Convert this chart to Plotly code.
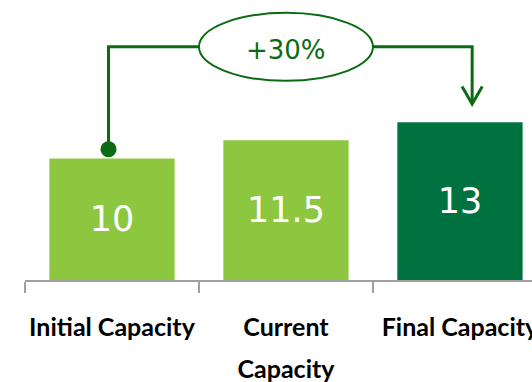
import plotly.graph_objects as go

# ---- data ----
categories = ["Initial Capacity", "Current Capacity", "Final Capacity"]
tick_lines = [["Initial Capacity"], ["Current", "Capacity"], ["Final Capacity"]]
values = [10, 11.5, 13]
bar_colors = ["#8DC63F", "#8DC63F", "#00723F"]

growth = (values[2] - values[0]) / values[0]
growth_label = f"+{growth:.0%}"

line_color = "#0B6B12"

span = "<span style='font-size:25px'>{}</span>"
ticktext = ["<br>".join(span.format(l) for l in lines) for lines in tick_lines]

fig = go.Figure()
fig.add_trace(go.Bar(
    x=categories, y=values,
    marker=dict(color=bar_colors, line=dict(width=0)),
    width=0.72,
    text=[f"{v:g}" for v in values],
    textposition="inside", insidetextanchor="middle",
    textangle=0, constraintext="none",
    textfont=dict(family="DejaVu Sans", size=35, color="white"),
    hoverinfo="skip",
))

# connector geometry (data units)
x_start = -0.02
x_end = 2.07
bracket_y = 19.2
dot_y = values[0] + 0.77
tip_y = values[2] + 1.5
ell_x0, ell_x1 = 0.5, 1.5
ell_y0, ell_y1 = 16.4, 22.0
head_dx, head_dy = 0.058, 1.43

shapes = [
    dict(type="path", xref="x", yref="y",
         path=f"M {x_start},{dot_y} L {x_start},{bracket_y} L {ell_x0},{bracket_y}",
         line=dict(color=line_color, width=3)),
    dict(type="path", xref="x", yref="y",
         path=f"M {ell_x1},{bracket_y} L {x_end},{bracket_y} L {x_end},{tip_y}",
         line=dict(color=line_color, width=3)),
    dict(type="path", xref="x", yref="y",
         path=f"M {x_end-head_dx},{tip_y+head_dy} L {x_end},{tip_y} L {x_end+head_dx},{tip_y+head_dy}",
         line=dict(color=line_color, width=3)),
    dict(type="circle", xref="x", yref="y", xsizemode="pixel", ysizemode="pixel",
         xanchor=x_start, yanchor=dot_y, x0=-8, x1=8, y0=-8, y1=8,
         fillcolor=line_color, line=dict(width=0)),
    dict(type="circle", xref="x", yref="y",
         x0=ell_x0, x1=ell_x1, y0=ell_y0, y1=ell_y1,
         fillcolor="white", line=dict(color=line_color, width=2)),
]

fig.update_layout(
    width=532, height=382,
    margin=dict(l=25, r=0, t=0, b=102, autoexpand=False),
    plot_bgcolor="white", paper_bgcolor="white",
    showlegend=False,
    shapes=shapes,
    annotations=[dict(x=1, y=bracket_y, xref="x", yref="y", text=growth_label,
                      showarrow=False, yshift=-3,
                      font=dict(family="DejaVu Sans", size=26, color=line_color))],
    xaxis=dict(
        type="category", range=[-0.5, 2.414], automargin=False,
        tickmode="array", tickvals=categories, ticktext=ticktext, tickangle=0,
        tickson="boundaries", ticks="outside", ticklen=11, tickwidth=2,
        tickcolor="#A0A0A0",
        showline=True, linecolor="#A0A0A0", linewidth=2,
        showgrid=False, zeroline=False,
        tickfont=dict(family="Lato", size=32, color="black", weight="bold"),
        ticklabelstandoff=16,
        fixedrange=True,
    ),
    yaxis=dict(range=[0, 23.06], visible=False, fixedrange=True, automargin=False),
)

fig.write_html("out.html", config={"displayModeBar": False},
               post_script="document.body.style.margin='0';document.body.style.overflow='hidden';")
